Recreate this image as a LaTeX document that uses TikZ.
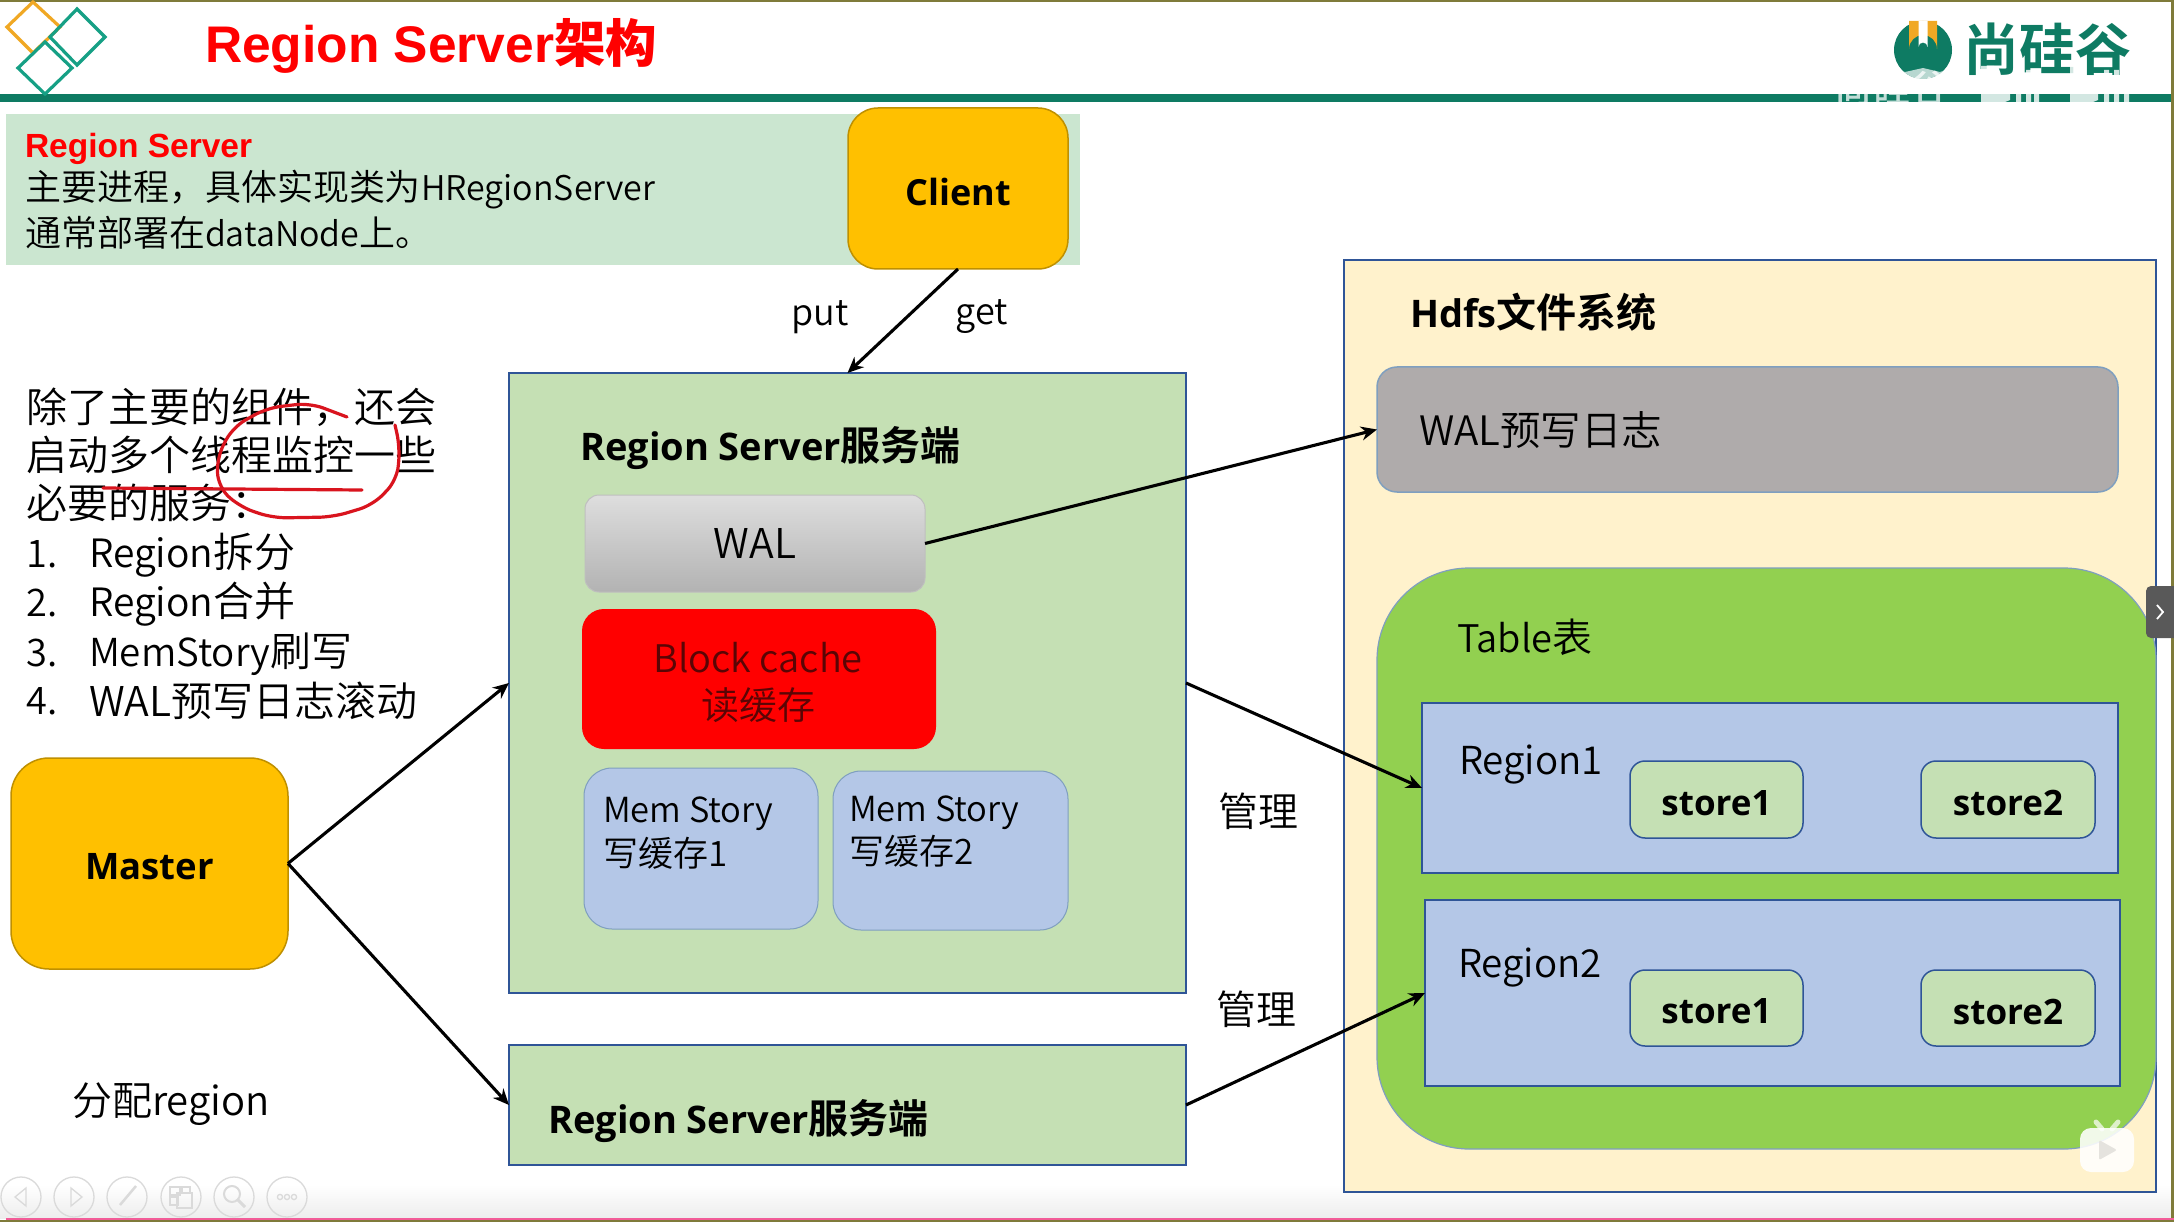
\documentclass[tikz,border=0pt]{standalone}
\usepackage{fontspec}
\setmainfont{Noto Sans CJK SC DemiLight}
\newfontfamily\arialfont{Liberation Sans}
\newfontfamily\latb{Open Sans}
\newfontfamily\cjkmed{Noto Sans CJK SC Medium}
\newfontfamily\cjkbold{Noto Sans CJK SC Bold}
\usetikzlibrary{arrows.meta}
\definecolor{teal1}{HTML}{0E7B63}
\definecolor{diamondteal}{HTML}{16A085}
\definecolor{orange1}{HTML}{F0A824}
\definecolor{gold}{HTML}{FFC000}
\definecolor{goldedge}{HTML}{BF9000}
\definecolor{lgreen}{HTML}{C5E0B4}
\definecolor{infogreen}{HTML}{CBE6D0}
\definecolor{lblue}{HTML}{B4C7E7}
\definecolor{navy}{HTML}{2F5597}
\definecolor{cream}{HTML}{FFF2CC}
\definecolor{tablegreen}{HTML}{92D050}
\definecolor{walgray}{HTML}{AFABAB}
\definecolor{softedge}{HTML}{7F9FBF}
\definecolor{inkred}{HTML}{D9141E}
\definecolor{olive}{HTML}{7F7B3A}
\definecolor{pinkline}{HTML}{F25C98}
\definecolor{toolgray}{HTML}{DADADA}
\definecolor{darkredtxt}{HTML}{5A0505}
\newcommand\la[2]{{\fontsize{#1}{#1}\selectfont #2}}
\newcommand\zhb[1]{{\cjkbold\fontsize{40}{40}\selectfont\mdseries #1}}
\newcommand\dn[1]{\raisebox{0pt}[\dimexpr\height+7pt\relax][\depth]{#1}}
\tikzset{
  fs/.style={font=\fontsize{#1}{#1}\selectfont},
  fsb/.style={font=\fontsize{#1}{#1}\selectfont\latb\bfseries},
  box/.style={rectangle,inner sep=0pt,outer sep=0pt,align=center},
  sharpbox/.style={box,draw=navy,line width=2.5pt},
  softbox/.style={box,draw=navy,line width=1.5pt,rounded corners=#1},
  goldbox/.style={box,fill=gold,draw=goldedge,line width=1.5pt,rounded corners=#1},
  storebox/.style={softbox=15pt,fill=lgreen,fsb=35},
  conn/.style={draw=black,line width=3.1pt,-{Stealth[length=16pt,width=14pt]}},
  txt/.style={inner sep=0pt,outer sep=0pt,anchor=west},
  tool/.style={draw=toolgray,line width=1.3pt},
  diamond1/.style={line width=3.2pt,line join=miter},
  wmark/.style={fill=white,fill opacity=.82}
}
\newcommand\bx[7]{%
  \pgfmathsetmacro\bxcx{(#2+#4)/2}\pgfmathsetmacro\bxcy{(#3+#5)/2}%
  \pgfmathsetmacro\bxw{#4-#2}\pgfmathsetmacro\bxh{#5-#3}%
  \node[#6,minimum width=\bxw pt,minimum height=\bxh pt] (#1) at (\bxcx,\bxcy) {#7};}
\begin{document}
\begin{tikzpicture}[x=1pt,y=-1pt]
\useasboundingbox (0,0) rectangle (2174,1222);
\fill[white] (0,0) rectangle (2174,1222);
\shade[top color=white,bottom color=black!7] (0,1185) rectangle (2174,1218);
% header
\fill[olive] (0,0) rectangle (2174,2.5);
\fill[olive] (2171,0) rectangle (2174,1222);
\fill[olive] (0,1220) rectangle (2174,1222);
\fill[pinkline] (6,1218) rectangle (2174,1220);
\fill[teal1] (0,94) rectangle (2171,102);
\draw[orange1,diamond1] (33,2) -- (60,27) -- (33,53) -- (7,27) -- cycle;
\draw[diamondteal,diamond1] (77,9) -- (105,37) -- (77,65) -- (50,37) -- cycle;
\draw[diamondteal,diamond1] (45,42) -- (72,68) -- (45,94) -- (18,68) -- cycle;
\node[txt,text=red] (title) at (205,46) {\arialfont\fontsize{51.5}{51.5}\selectfont\bfseries Region Server\cjkbold 架构};
% logo
\fill[teal1] (1923,50) circle (29);
\fill[orange1] (1909,21) -- (1909,49) arc[start angle=180,end angle=360,radius=14] -- (1937,21) -- cycle;
\fill[white] (1918.5,21) -- (1918.5,47) arc[start angle=180,end angle=360,radius=4.5] -- (1927.5,21) -- cycle;
\begin{scope}
\clip (1923,50) circle (29);
\fill[white,opacity=.7] (1890,68) -- (1905,72) -- (1923,68) -- (1940,72) -- (1956,66) -- (1956,82) -- (1890,82) -- cycle;
\end{scope}
\node[text=teal1,font=\fontsize{56}{56}\selectfont\cjkbold,inner sep=0pt] (logotext) at (2047,49) {尚硅谷};
\node[text=white,opacity=.75,font=\fontsize{38}{38}\selectfont\cjkmed,inner sep=0pt] (wm1) at (1891,88) {尚硅谷};
% watermark shapes
\fill[wmark] (1981,66) -- (1994,66) -- (1994,80) -- (2010,88) -- (2010,100) -- (1990,108) -- (1981,108) -- cycle;
\fill[wmark] (2016,70) rectangle (2021,104) (2026,70) rectangle (2031,104) (2034,70) rectangle (2039,104);
\fill[wmark] (2070,66) -- (2082,66) -- (2082,80) -- (2098,88) -- (2098,100) -- (2078,108) -- (2070,108) -- cycle;
\fill[wmark] (2104,70) rectangle (2109,104) (2114,70) rectangle (2119,104) (2124,70) rectangle (2129,104);
% info box
\bx{info}{6}{114}{1080}{265}{box,fill=infogreen}{}
\node[txt,text=red] (infot) at (25,149) {\arialfont\fontsize{33.5}{33.5}\selectfont\bfseries Region Server};
\node[txt,fs=36] (info1) at (25,190) {主要进程，具体实现类为\la{34}{HRegionServer}};
\node[txt,fs=36] (info2) at (25,233) {通常部署在\la{34}{dataNode}上。};
\bx{client}{848}{108}{1068}{269}{goldbox=30pt,fsb=36}{\dn{Client}}
% HDFS
\bx{hdfs}{1344}{260}{2156}{1192}{sharpbox,line width=2pt,fill=cream}{}
\node[txt,fsb=38] (hdfst) at (1410,312) {Hdfs\zhb{文件系统}};
\bx{walh}{1377}{367}{2118}{492}{box,fill=walgray,draw=softedge,line width=1.5pt,rounded corners=20pt}{}
\node[txt,fs=40.5] (walht) at (1419,430) {WAL预写日志};
\bx{tbl}{1377}{568}{2156}{1149}{box,fill=tablegreen,draw=softedge,line width=1.2pt,rounded corners=92pt}{}
\node[txt,fs=40] (tblt) at (1457,637) {\la{38}{Table}表};
\bx{reg1}{1422}{703}{2118}{873}{sharpbox,fill=lblue}{}
\node[txt,fs=38.5] (reg1t) at (1459,765) {Region1};
\bx{s11}{1630}{761}{1803}{838}{storebox}{\dn{store1}}
\bx{s12}{1921}{761}{2095}{838}{storebox}{\dn{store2}}
\bx{reg2}{1425}{900}{2120}{1086}{sharpbox,fill=lblue}{}
\node[txt,fs=38.5] (reg2t) at (1458,968) {Region2};
\bx{s21}{1630}{970}{1803}{1046}{storebox}{\dn{store1}}
\bx{s22}{1921}{970}{2095}{1046}{storebox}{\dn{store2}}
% Region server 1
\bx{rs1}{509}{373}{1186}{993}{sharpbox,fill=lgreen}{}
\node[txt,fsb=38] (rs1t) at (580,448) {Region Server\zhb{服务端}};
\bx{wal}{585}{495}{925}{592}{box,top color=black!13,bottom color=black!30,draw=black!25,line width=1pt,rounded corners=14pt,fs=41}{WAL}
\bx{cache}{582}{609}{936}{749}{box,fill=red,rounded corners=22pt}{}
\node[fs=38,text=darkredtxt,inner sep=0pt] (cachea) at (758,658) {Block cache};
\node[fs=38,text=darkredtxt,inner sep=0pt] (cacheb) at (758,705) {读缓存};
\bx{mem1}{584}{768}{818}{929}{box,fill=lblue,draw=softedge,line width=1pt,rounded corners=28pt}{}
\node[txt,fs=34.5] (mem1a) at (603,814) {Mem Story};
\node[txt,fs=35] (mem1b) at (603,853) {写缓存1};
\bx{mem2}{833}{771}{1068}{930}{box,fill=lblue,draw=softedge,line width=1pt,rounded corners=28pt}{}
\node[txt,fs=34.5] (mem2a) at (849,813) {Mem Story};
\node[txt,fs=35] (mem2b) at (849,851) {写缓存2};
% Region server 2
\bx{rs2}{509}{1045}{1186}{1165}{sharpbox,fill=lgreen}{}
\node[txt,fsb=38] (rs2t) at (548,1121) {Region Server\zhb{服务端}};
% Master
\bx{master}{11}{758}{288}{969}{goldbox=38pt,fsb=36.5}{\dn{Master}}
% left text
\node[txt,fs=41] (l1) at (27,407) {除了主要的组件，还会};
\node[txt,fs=41] (l2) at (27,455) {启动多个线程监控一些};
\node[txt,fs=41] (l3) at (27,503) {必要的服务：};
\node[txt,fs=38] (n1) at (27,554) {1.};
\node[txt,fs=41] (t1) at (89,555) {\la{39}{Region}拆分};
\node[txt,fs=38] (n2) at (27,603) {2.};
\node[txt,fs=41] (t2) at (89,604) {\la{39}{Region}合并};
\node[txt,fs=38] (n3) at (27,653) {3.};
\node[txt,fs=41] (t3) at (89,654) {\la{38.5}{MemStory}刷写};
\node[txt,fs=38] (n4) at (27,701) {4.};
\node[txt,fs=41] (t4) at (89,701) {WAL预写日志滚动};
% ink
\draw[inkred,line width=3.2pt,line cap=round] (103,488) -- (362,490);
\draw[inkred,line width=3.2pt,line cap=round,rounded corners=14pt] (347,417) -- (310,403) -- (267,408) -- (233,427) -- (217,457) -- (218,487) -- (240,507) -- (273,518) -- (333,517) -- (373,505) -- (397,480) -- (400,447) -- (395,425);
% connectors
\draw[conn] (client.south) -- (rs1.north);
\draw[conn] (master.east) -- (rs1.west);
\draw[conn] (master.east) -- (rs2.west);
\draw[conn] (wal.east) -- (walh.west);
\draw[conn] (rs1.east) -- (reg1.west);
\draw[conn] (rs2.east) -- (reg2.west);
% labels
\node[fs=36,inner sep=0pt] (put) at (820,317) {put};
\node[fs=36,inner sep=0pt] (get) at (982,317) {get};
\node[fs=40,inner sep=0pt] (m1) at (1258,811) {管理};
\node[fs=40,inner sep=0pt] (m2) at (1256,1009) {管理};
\node[txt,fs=40] (assign) at (72,1104) {分配\la{40}{region}};
% toolbar
\foreach \cx in {21,74,127,181,234,287}{\draw[tool] (\cx,1197) circle (20);}
\draw[tool] (26,1188) -- (15,1197) -- (26,1206) -- cycle;
\draw[tool] (71,1188) -- (82,1197) -- (71,1206) -- cycle;
\draw[tool,line width=2.5pt] (136,1186) -- (120,1205);
\draw[tool] (170,1187) rectangle (180,1195) (182,1187) rectangle (190,1193) (170,1197) rectangle (178,1205) (177,1193) rectangle (192,1208);
\draw[tool,line width=2pt] (232,1194) circle (8);
\draw[tool,line width=3pt] (238,1200) -- (245,1207);
\foreach \dx in {-7,0,7}{\draw[tool] (287+\dx,1197) circle (2.6);}
% side tab
\fill[black!65,rounded corners=5pt] (2146,586) -- (2180,586) -- (2180,638) -- (2146,638) -- cycle;
\draw[white,line width=1.8pt] (2157,605) -- (2163,612) -- (2157,619);
% tv icon
\fill[white,opacity=.88,rounded corners=11pt] (2080,1128) rectangle (2134,1172);
\draw[white,opacity=.7,line width=5pt,line cap=round] (2096,1122) -- (2102,1129) (2118,1122) -- (2112,1129);
\fill[cream!60!black!25,rounded corners=2pt] (2099,1140) -- (2117,1150) -- (2099,1160) -- cycle;
\end{tikzpicture}
\end{document}
